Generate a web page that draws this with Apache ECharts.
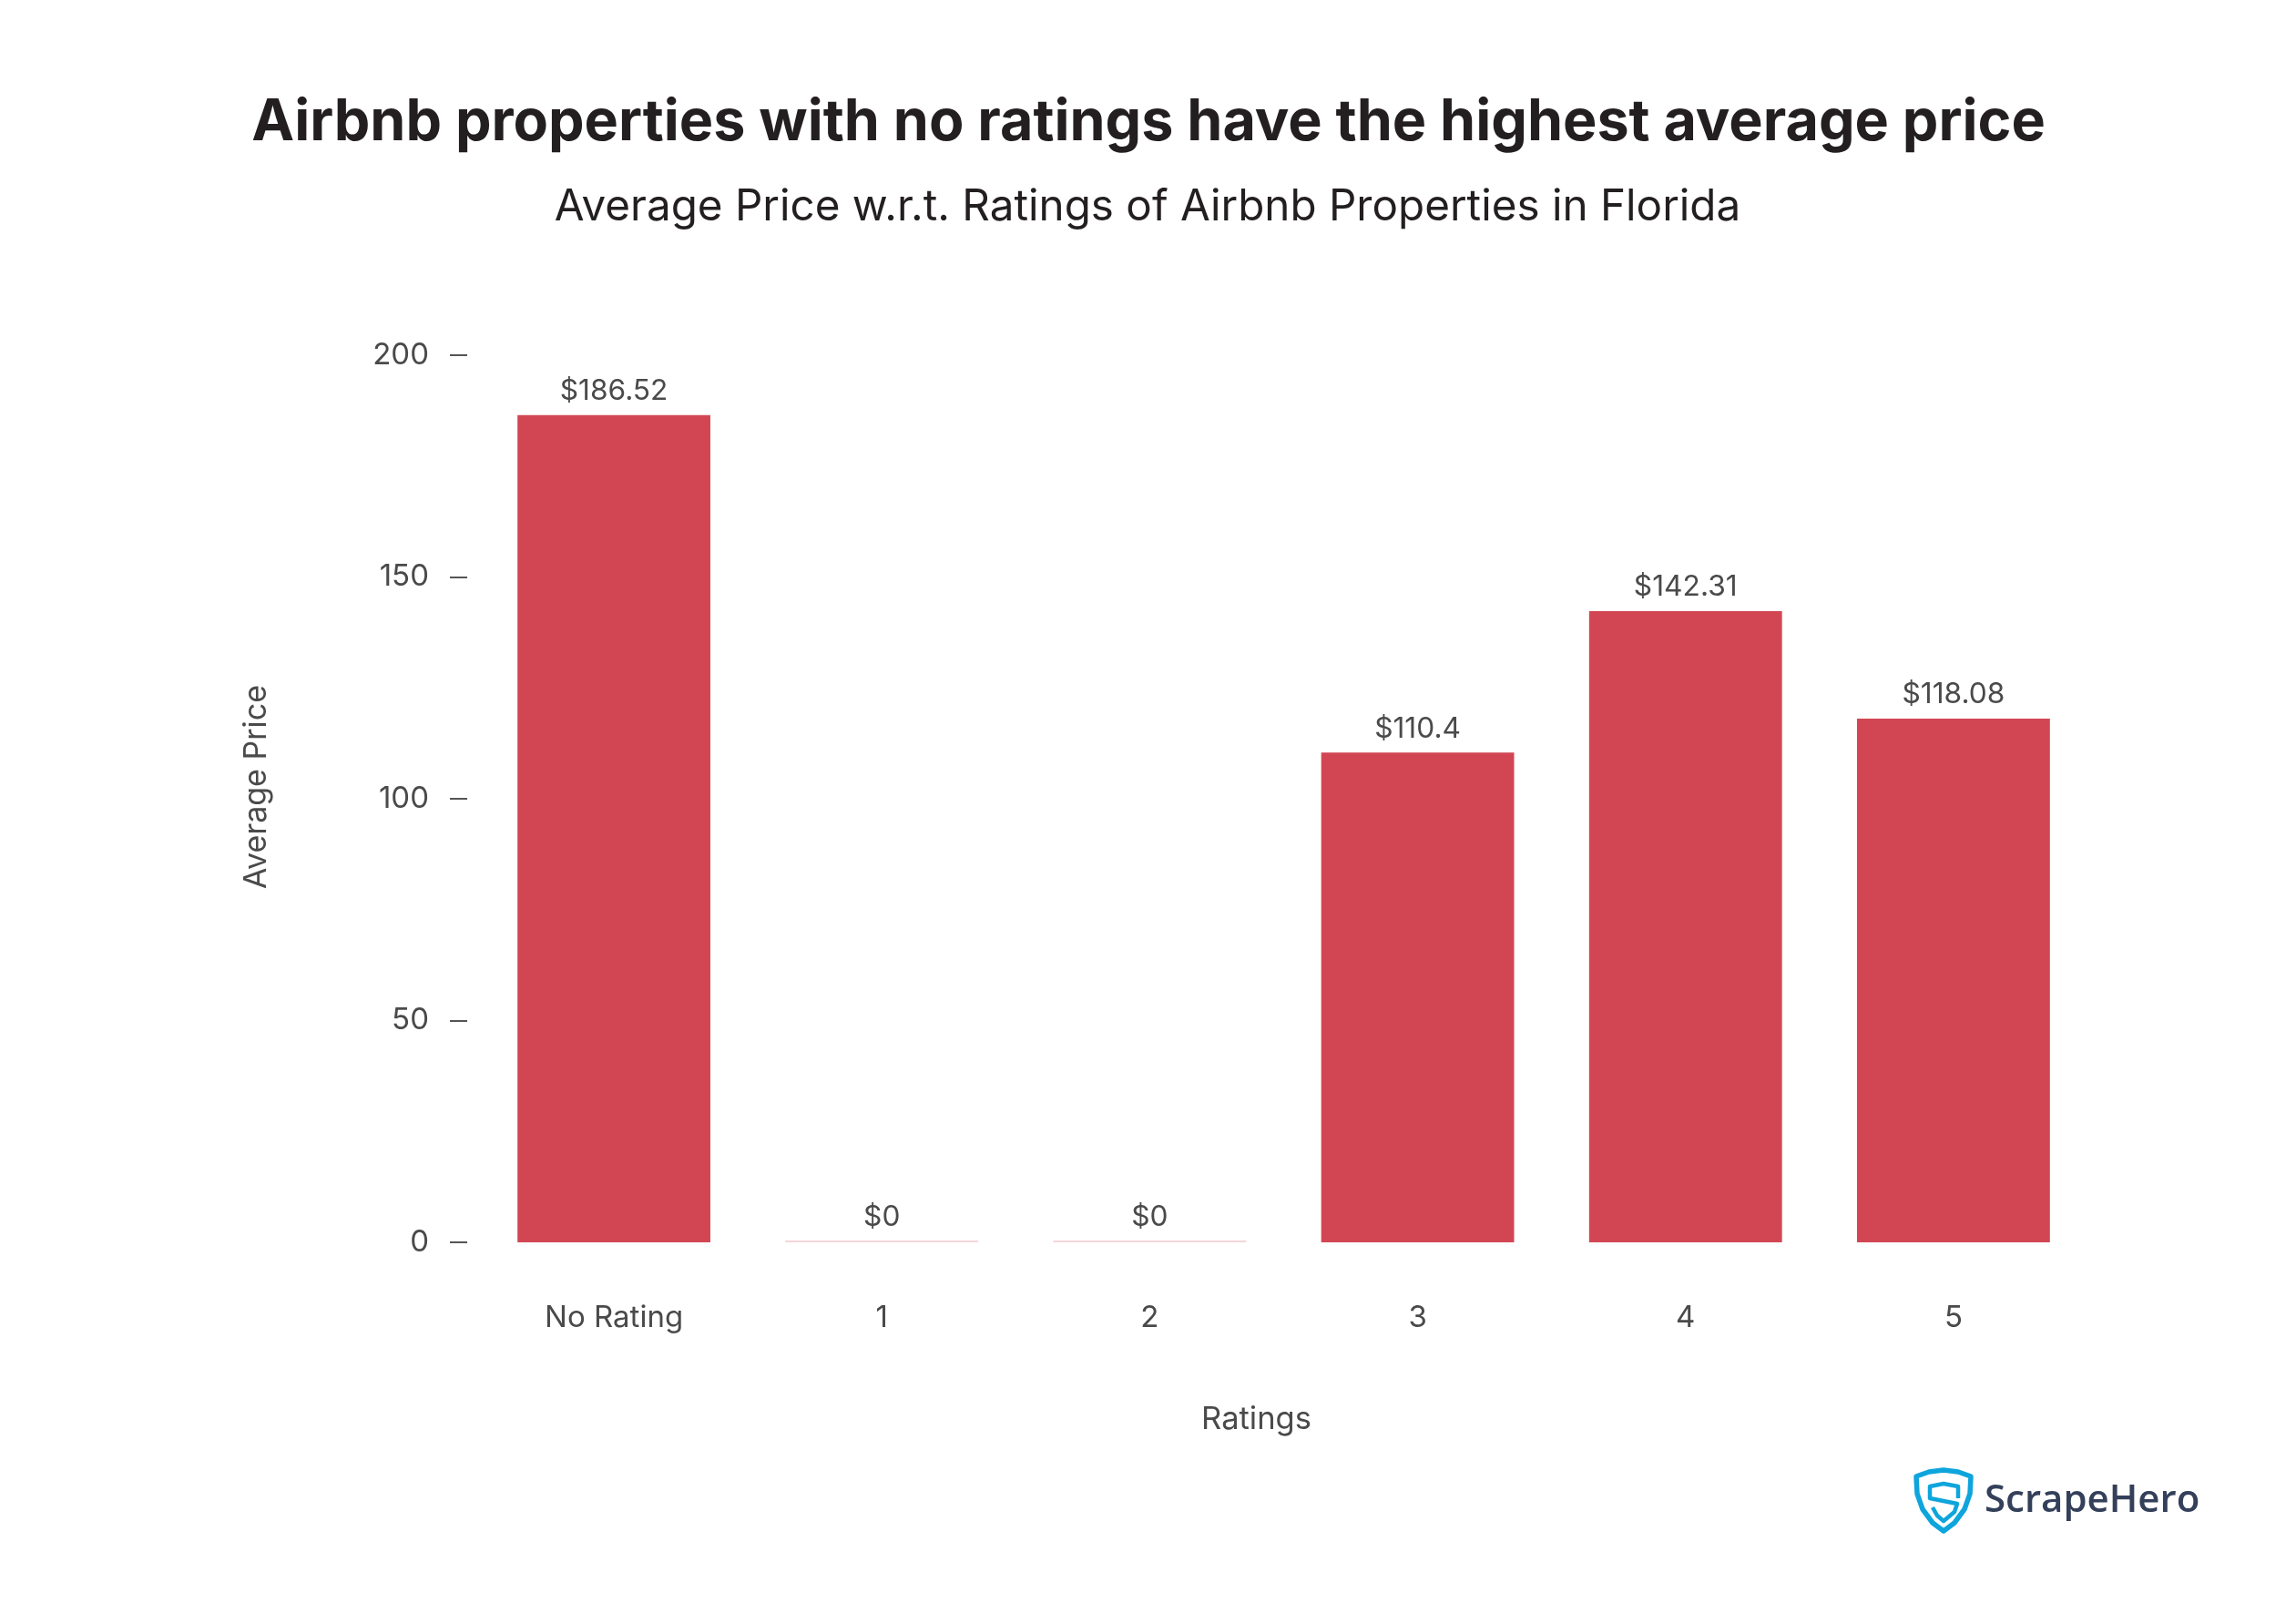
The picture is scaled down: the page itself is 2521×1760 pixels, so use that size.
<!DOCTYPE html>
<html>
<head>
<meta charset="utf-8">
<style>html,body{margin:0;padding:0;background:#fff}#chart{width:2521px;height:1760px}</style>
<script src="https://cdn.jsdelivr.net/npm/echarts@6/dist/echarts.min.js"></script>
</head>
<body>
<div id="chart"></div>
<script>
var ratings = ['No Rating', '1', '2', '3', '4', '5']
var avgPrice = [186.52, 0, 0, 110.4, 142.31, 118.08]
var yTicks = { min: 0, max: 200, interval: 50 }
var titleText = 'Airbnb properties with no ratings have the highest average price'
var subtitleText = 'Average Price w.r.t. Ratings of Airbnb Properties in Florida'

var font = 'Inter'
var textColor = '#4a4a4a'
var myChart = echarts.init(document.getElementById('chart'), null, { renderer: 'canvas' })

// logo outline, page pixels
var shieldPts = [[2134, 1614], [2118, 1616], [2104, 1621], [2105, 1640], [2111, 1657], [2122, 1672], [2134, 1681], [2146, 1672], [2157, 1657], [2163, 1640], [2164, 1621], [2150, 1616]]
var letterPts = [[2150, 1645], [2150, 1632], [2134, 1629], [2119, 1632], [2119, 1645], [2149, 1651], [2146, 1660], [2134, 1670], [2127, 1664], [2122, 1655]]

var option = {
    backgroundColor: '#fff',
    animation: false,
    title: [{
        text: titleText,
        left: 1256,
        top: 99,
        textAlign: 'center',
        textStyle: { fontFamily: font, fontWeight: 700, fontSize: 62.8, color: '#231f20' }
    }, {
        text: subtitleText,
        left: 1255,
        top: 199,
        textAlign: 'center',
        textStyle: { fontFamily: font, fontWeight: 400, fontSize: 47.6, color: '#231f20' }
    }],
    grid: { left: 527, right: 229, top: 390, height: 974 },
    xAxis: {
        type: 'category',
        data: ratings,
        name: 'Ratings',
        nameLocation: 'middle',
        nameGap: 177,
        nameTextStyle: { fontFamily: font, fontSize: 34.5, color: textColor, padding: [0, 60, 0, 0] },
        axisLine: { show: false },
        axisTick: { show: false },
        axisLabel: { fontFamily: font, fontSize: 33, color: textColor, margin: 67, interval: 0 }
    },
    yAxis: {
        type: 'value',
        min: yTicks.min,
        max: yTicks.max,
        interval: yTicks.interval,
        offset: 14,
        name: 'Average Price',
        nameLocation: 'middle',
        nameGap: 214,
        nameTextStyle: { fontFamily: font, fontSize: 34, color: textColor, padding: [0, 0, 0, 26] },
        axisLine: { show: false },
        axisTick: { show: true, length: 19, lineStyle: { color: '#555', width: 2 } },
        axisLabel: { fontFamily: font, fontSize: 33, color: textColor, margin: 42, padding: [6, 0, 0, 0] },
        splitLine: { show: false }
    },
    series: [{
        type: 'bar',
        data: avgPrice,
        barCategoryGap: '28%',
        barMinHeight: 2,
        itemStyle: {
            color: function (p) { return p.value === 0 ? '#f3d6db' : '#d24653' }
        },
        label: {
            show: true,
            position: 'top',
            distance: 10,
            fontFamily: font,
            fontSize: 31.7,
            color: textColor,
            formatter: function (p) { return '$' + p.value }
        }
    }],
    graphic: [{
        type: 'polygon',
        shape: { points: shieldPts },
        style: { fill: 'none', stroke: '#0ea5dc', lineWidth: 5.5, lineJoin: 'round' }
    }, {
        type: 'polyline',
        shape: { points: letterPts },
        style: { fill: 'none', stroke: '#0ea5dc', lineWidth: 4.5, lineJoin: 'round' }
    }, {
        type: 'text',
        left: 2179,
        top: 1627,
        style: { text: 'ScrapeHero', fontFamily: 'Open Sans', fontWeight: 600, fontSize: 42, fill: '#34405a' }
    }]
}
myChart.setOption(option)
</script>
</body>
</html>
